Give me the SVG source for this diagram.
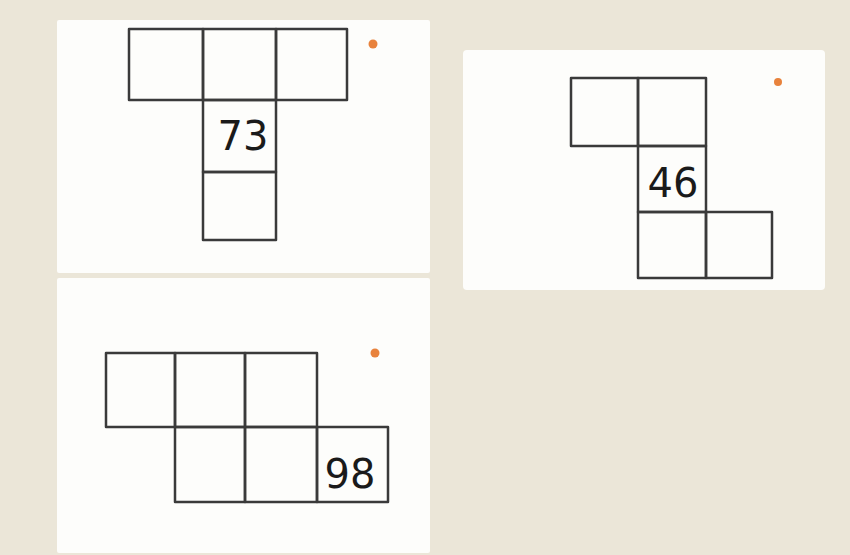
<svg xmlns="http://www.w3.org/2000/svg" width="850" height="555" viewBox="0 0 850 555">
<style>
.card{fill:#fdfdfb}
.cell{fill:none;stroke:#3a3a3a;stroke-width:2.5;stroke-linejoin:round}
.dot{fill:#e8823c}
.num{font-family:"DejaVu Sans","Liberation Sans",sans-serif;font-size:40px;fill:#1a1a1a;text-anchor:middle}
</style>
<rect width="850" height="555" fill="#ebe6d8"/>
<g id="card1">
<rect class="card" x="57" y="20" width="373" height="253" rx="2"/>
<rect class="cell" x="129" y="29" width="74" height="71"/>
<rect class="cell" x="203" y="29" width="73" height="71"/>
<rect class="cell" x="276" y="29" width="71" height="71"/>
<rect class="cell" x="203" y="100" width="73" height="72"/>
<rect class="cell" x="203" y="172" width="73" height="68"/>
<circle class="dot" cx="373" cy="44" r="4.5"/>
<text class="num" x="243" y="150">73</text>
</g>
<g id="card2">
<rect class="card" x="463" y="50" width="362" height="240" rx="4"/>
<rect class="cell" x="571" y="78" width="67" height="68"/>
<rect class="cell" x="638" y="78" width="68" height="68"/>
<rect class="cell" x="638" y="146" width="68" height="66"/>
<rect class="cell" x="638" y="212" width="68" height="66"/>
<rect class="cell" x="706" y="212" width="66" height="66"/>
<circle class="dot" cx="778" cy="82" r="4"/>
<text class="num" x="673" y="197">46</text>
</g>
<g id="card3">
<rect class="card" x="57" y="278" width="373" height="275" rx="2"/>
<rect class="cell" x="106" y="353" width="69" height="74"/>
<rect class="cell" x="175" y="353" width="70" height="74"/>
<rect class="cell" x="245" y="353" width="72" height="74"/>
<rect class="cell" x="175" y="427" width="70" height="75"/>
<rect class="cell" x="245" y="427" width="72" height="75"/>
<rect class="cell" x="317" y="427" width="71" height="75"/>
<circle class="dot" cx="375" cy="353" r="4.5"/>
<text class="num" x="350" y="488">98</text>
</g>
</svg>
